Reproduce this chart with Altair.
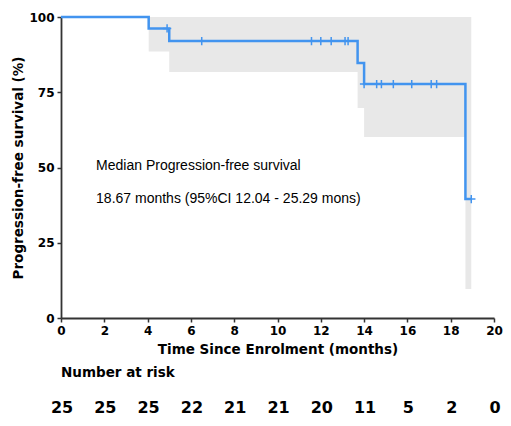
import altair as alt
import pandas as pd

# Kaplan-Meier step curve (months, % PFS)
step_t = [0, 4.05, 5.0, 13.7, 14.0, 18.68, 18.95]
step_s = [100, 96.2, 92.0, 84.7, 77.7, 39.5, 39.5]

# Confidence band
band_t = [4.05, 5.0, 13.7, 14.0, 18.68, 18.95]
band_lo = [88.5, 81.7, 69.8, 60.1, 9.6, 9.6]
band_hi = [100, 100, 100, 100, 100, 100]

# Censor marks
cens_t = [4.9, 6.5, 11.57, 12.0, 12.48, 13.12, 13.26, 14.0, 14.58, 14.8, 15.35, 16.2, 17.1, 17.35, 18.95]
cens_s = [96.2, 92.0, 92.0, 92.0, 92.0, 92.0, 92.0, 77.7, 77.7, 77.7, 77.7, 77.7, 77.7, 77.7, 39.5]

# Number at risk
risk_t = [0, 2, 4, 6, 8, 10, 12, 14, 16, 18, 20]
risk_n = [25, 25, 25, 22, 21, 21, 20, 11, 5, 2, 0]

annot = ["Median Progression-free survival", "18.67 months (95%CI 12.04 - 25.29 mons)"]

LINE = "#4294ef"
FONT = "Liberation Sans"
BFONT = "DejaVu Sans"

xs = alt.Scale(domain=[0, 20], nice=False, zero=True)
ys = alt.Scale(domain=[0, 100], nice=False)

common = dict(grid=False, labelFont=BFONT, labelFontWeight="bold", labelFontSize=12,
              labelColor="black", titleFont=BFONT, titleFontWeight="bold", titleFontSize=13.5,
              titleColor="black", domainColor="#333333", domainWidth=1.8, tickColor="#333333",
              tickWidth=1.5, tickSize=4, labelFlush=False)
xaxis = alt.Axis(values=list(range(0, 21, 2)), title="Time Since Enrolment (months)",
                 labelPadding=3, titlePadding=6, **common)
yaxis = alt.Axis(values=[0, 25, 50, 75, 100], title="Progression-free survival (%)",
                 labelPadding=3, titlePadding=3, **common)

step_df = pd.DataFrame({"t": step_t, "s": step_s})
band_df = pd.DataFrame({"t": band_t, "lo": band_lo, "hi": band_hi})
cens_df = pd.DataFrame({"t": cens_t, "s": cens_s})
risk_df = pd.DataFrame({"t": risk_t, "n": risk_n})
annot_df = pd.DataFrame({"t": [1.62, 1.62], "s": [50.5, 39.5], "label": annot})

band = alt.Chart(band_df).mark_area(interpolate="step-after", color="#e8e8e8", opacity=1).encode(
    x=alt.X("t:Q", scale=xs, axis=xaxis),
    y=alt.Y("lo:Q", scale=ys, axis=yaxis),
    y2="hi:Q",
)

line = alt.Chart(step_df).mark_line(interpolate="step-after", color=LINE, strokeWidth=2.5).encode(
    x=alt.X("t:Q", scale=xs),
    y=alt.Y("s:Q", scale=ys),
)

cens = alt.Chart(cens_df).mark_point(shape="M-1,0L1,0M0,-1L0,1", size=70, filled=False,
                                      color=LINE, strokeWidth=1.5, opacity=1).encode(
    x=alt.X("t:Q", scale=xs),
    y=alt.Y("s:Q", scale=ys),
)

text = alt.Chart(annot_df).mark_text(align="left", baseline="middle", font=FONT, fontSize=14,
                                     color="black").encode(
    x=alt.X("t:Q", scale=xs),
    y=alt.Y("s:Q", scale=ys),
    text="label:N",
)

risk_title = alt.Chart(pd.DataFrame({"t": [0], "label": ["Number at risk"]})).mark_text(
    align="left", baseline="middle", font=BFONT, fontSize=13.5, fontWeight="bold", color="black"
).encode(x=alt.X("t:Q", scale=xs), y=alt.value(356), text="label:N")

risk = alt.Chart(risk_df).mark_text(align="center", baseline="middle", font=BFONT, fontSize=16,
                                    fontWeight="bold", color="black", dx=1).encode(
    x=alt.X("t:Q", scale=xs), y=alt.value(391), text="n:Q")

chart = alt.layer(band, line, cens, text, risk_title, risk).properties(
    width=433, height=301,
    autosize=alt.AutoSizeParams(type="none"),
    padding={"left": 53, "top": 9, "right": 9, "bottom": 100},
).configure_view(stroke=None)

chart.save("out.html", embed_options={"renderer": "svg", "actions": False})
